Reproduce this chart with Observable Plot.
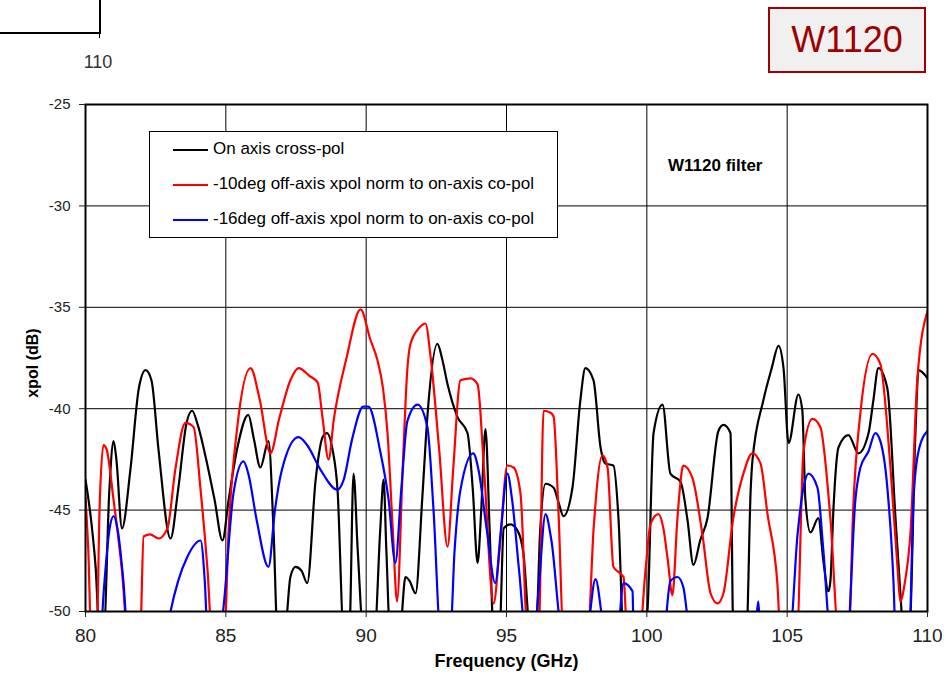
<!DOCTYPE html>
<html>
<head>
<meta charset="utf-8">
<script src="https://cdn.jsdelivr.net/npm/d3@7"></script>
<script src="https://cdn.jsdelivr.net/npm/@observablehq/plot@0.6"></script>
<style>
  html, body { margin: 0; padding: 0; background: #fff; }
  #wrap { position: relative; width: 951px; height: 686px; overflow: hidden; font-family: "Liberation Sans", Arial, sans-serif; }
  #wrap svg.plot { position: absolute; left: 0; top: 0; }
  .abs { position: absolute; }
</style>
</head>
<body>
<div id="wrap">
  <div class="abs" style="left:0;top:32px;width:101px;height:2px;background:#000"></div>
  <div class="abs" style="left:99px;top:0;width:2px;height:34px;background:#000"></div>
  <div class="abs" style="left:99px;top:34px;width:1px;height:4px;background:#000"></div>
  <div class="abs" style="left:68px;top:52px;width:60px;text-align:center;font-family:'Liberation Sans Narrow','Liberation Sans',sans-serif;font-size:18px;color:#333">110</div>
  <div class="abs" style="left:768px;top:7px;width:154px;height:62px;border:2px solid #a00000;background:#f0f0f0;color:#a00000;font-size:36px;line-height:62px;text-align:center">W1120</div>
  <div class="abs" style="left:149px;top:131px;width:407px;height:105px;border:1px solid #000;background:#fff;font-size:17px;color:#000">
    <div class="abs" style="left:23px;top:17px;width:35px;height:2px;background:#000"></div>
    <div class="abs" style="left:63px;top:7px;white-space:nowrap">On axis cross-pol</div>
    <div class="abs" style="left:23px;top:52px;width:35px;height:2px;background:#ff0000"></div>
    <div class="abs" style="left:63px;top:42px;white-space:nowrap">-10deg off-axis xpol norm to on-axis co-pol</div>
    <div class="abs" style="left:23px;top:87px;width:35px;height:2px;background:#0000ff"></div>
    <div class="abs" style="left:63px;top:77px;white-space:nowrap">-16deg off-axis xpol norm to on-axis co-pol</div>
  </div>
  <div class="abs" style="left:668px;top:156px;font-size:17px;font-weight:bold;white-space:nowrap">W1120 filter</div>
</div>
<script>
const xTicks = [80, 85, 90, 95, 100, 105, 110];
const yTicks = [-50, -45, -40, -35, -30, -25];
const seriesNames = ["On axis cross-pol", "-10deg off-axis xpol norm to on-axis co-pol", "-16deg off-axis xpol norm to on-axis co-pol"];
const seriesColors = ["#000000", "#ff0000", "#0000ff"];

const blackFreq = [80.0,80.2,80.36,80.5,80.65,80.85,81.0,81.1,81.3,81.6,81.9,82.14,82.35,82.6,83.03,83.3,83.6,83.8,84.0,84.3,84.6,84.88,85.1,85.4,85.8,86.0,86.23,86.52,86.7,86.84,87.1,87.3,87.48,87.7,87.9,88.2,88.45,88.6,88.8,88.98,89.2,89.4,89.55,89.7,89.9,90.3,90.5,90.62,90.72,90.85,91.2,91.4,91.55,91.76,92.0,92.18,92.54,92.7,92.9,93.25,93.61,93.8,93.97,94.1,94.25,94.4,94.54,94.75,94.9,95.14,95.39,95.6,95.85,96.05,96.2,96.39,96.68,96.85,97.03,97.35,97.63,97.81,98.1,98.35,98.52,98.81,98.99,99.17,99.9,100.02,100.24,100.56,100.84,101.2,101.45,101.66,101.9,102.16,102.55,102.73,102.98,103.08,103.55,103.7,103.76,104.15,104.45,104.69,104.87,105.05,105.4,105.54,105.65,105.83,106.11,106.29,106.47,106.54,106.65,106.83,107.18,107.54,107.9,108.07,108.25,108.57,108.86,109.03,109.14,109.35,109.57,109.68,110.0];
const blackDb = [-43.5,-45.5,-47.8,-51,-51,-44,-41.6,-42.5,-45.9,-43,-39,-38.1,-38.6,-42,-46.4,-44,-40.7,-40.1,-40.8,-42.5,-44.5,-46.5,-44.5,-42,-40.3,-41.5,-42.9,-41.6,-46,-51,-51,-48.3,-47.8,-48,-48.6,-43.5,-41.4,-41.2,-42,-44,-51,-51,-43.2,-47,-51,-51,-46,-43.5,-47,-51,-51,-48.3,-48.5,-49.1,-44.4,-40.4,-36.8,-37.5,-38.8,-40.4,-41.2,-44,-47.6,-45,-41,-46,-51,-51,-45.9,-45.7,-46.0,-47.1,-51,-51,-46,-43.7,-43.9,-44.6,-45.3,-43.9,-39.6,-38.0,-38.6,-41.9,-42.7,-42.8,-45.4,-51,-51,-50,-41.2,-39.8,-43.2,-43.6,-45.5,-47.7,-46.5,-45.4,-41.1,-40.8,-41.2,-51,-51,-44,-42.6,-39.6,-38,-36.9,-38.0,-41.7,-39.3,-40.1,-44.5,-46.1,-45.4,-47.5,-49.0,-48.5,-44.9,-41.9,-41.3,-42.2,-41.2,-39.6,-38.0,-39.0,-45.4,-49.0,-51,-51,-41.2,-38.1,-38.5];

const redFreq = [80.0,80.1,80.2,80.4,80.5,80.64,80.75,81.0,81.3,81.5,81.95,82.07,82.3,82.6,82.92,83.2,83.56,83.85,84.1,84.35,84.5,84.95,85.1,85.4,85.88,86.2,86.59,86.9,87.3,87.59,88.0,88.27,88.45,88.66,88.85,89.3,89.8,90.15,90.4,90.6,90.76,90.95,91.1,91.3,91.47,91.58,91.9,92.11,92.3,92.6,92.9,93.1,93.36,93.72,93.97,94.2,94.54,94.75,95.03,95.25,95.5,95.75,96.15,96.32,96.57,96.68,96.85,97.03,97.9,98.1,98.42,98.6,98.81,99.17,99.3,99.75,99.95,100.13,100.41,100.59,100.75,100.91,101.09,101.27,101.3,101.62,101.98,102.27,102.52,102.73,103.08,103.44,103.76,104.05,104.3,104.65,104.76,105.35,105.58,105.9,106.18,106.54,106.83,107.2,107.35,107.61,108.04,108.32,108.68,108.93,109.03,109.2,109.39,109.64,110.0];
const redDb = [-44.4,-47,-51,-51,-45,-41.8,-42,-44.5,-48,-51,-51,-46.3,-46.2,-46.4,-45.9,-43,-40.7,-40.9,-44,-48,-51,-51,-46,-41,-38.0,-39.5,-42.2,-40.5,-38.6,-38.0,-38.4,-38.7,-40.5,-42.5,-40.5,-37.5,-35.1,-36.6,-37.6,-39,-41.2,-46,-49.5,-43,-38.0,-36.8,-36,-35.8,-37.5,-42,-46.8,-43,-38.6,-38.5,-38.8,-43,-49.6,-47,-42.8,-42.9,-44.2,-51,-51,-40.1,-40.2,-40.4,-45,-51,-51,-46,-42.3,-42.9,-47.8,-48.3,-51,-51,-48,-45.7,-45.2,-45.9,-47.5,-49.2,-45.4,-42.9,-42.8,-43.4,-46.2,-49.1,-49.6,-49.1,-45.4,-43.2,-42.2,-42.7,-45.2,-48.6,-51,-51,-42.1,-40.5,-40.9,-45.4,-51,-51,-45,-40.2,-37.3,-37.8,-42.9,-47.8,-49.5,-48.5,-46.2,-38.5,-35.2];

const blueFreq = [80.0,80.5,80.65,80.85,81.0,81.15,81.35,81.5,82.9,83.03,83.3,83.63,84.1,84.25,84.35,84.8,84.9,85.27,85.63,85.8,86.1,86.52,86.75,87.0,87.59,87.9,88.37,88.98,89.2,89.5,89.9,90.08,90.5,90.8,91.04,91.25,91.47,91.83,92.18,92.4,92.65,93.0,93.15,93.36,93.82,94.0,94.3,94.6,94.8,95.03,95.2,95.45,95.68,96.0,96.14,96.39,96.6,96.99,97.85,98.17,98.52,98.95,99.17,99.49,99.53,100.6,100.84,101.09,101.3,101.55,103.85,103.97,104.05,105.1,105.37,105.58,105.76,106.08,106.29,106.54,107.15,107.43,107.61,107.9,108.14,108.32,108.57,108.79,108.86,109.35,109.5,109.68,110.0];
const blueDb = [-52,-52,-49,-46,-45.3,-46,-48.5,-51,-51,-50,-48.5,-47.3,-46.5,-48.5,-51,-51,-50,-44.2,-42.6,-43.2,-45.5,-47.8,-45,-43,-41.4,-41.8,-43.0,-44.0,-43.5,-41.5,-39.9,-39.9,-42.1,-44.5,-47.6,-44,-40.6,-39.8,-40.9,-45,-51,-51,-47,-44.0,-42.2,-43,-46,-48.6,-46,-43.2,-44.5,-48,-51,-51,-49,-45.2,-46.5,-51,-51,-48.4,-51,-51,-48.6,-49.0,-51,-51,-48.5,-48.3,-48.8,-51,-51,-49.5,-51,-51,-46.2,-43.9,-43.2,-43.9,-47.0,-51,-51,-44.5,-42.9,-42.1,-41.2,-41.6,-43.9,-48.6,-51,-51,-44.5,-42.1,-41.1];

const rows = [];
[[blackFreq, blackDb], [redFreq, redDb], [blueFreq, blueDb]].forEach(([fs, ds], i) => {
  fs.forEach((f, j) => rows.push({series: seriesNames[i], freq: f, db: ds[j]}));
});

const chart = Plot.plot({
  width: 951,
  height: 686,
  marginTop: 104,
  marginLeft: 85,
  marginRight: 24,
  marginBottom: 75,
  style: {fontFamily: "'Liberation Sans', Arial, sans-serif", background: "transparent", overflow: "visible"},
  x: {domain: [80, 110]},
  y: {domain: [-50, -25]},
  color: {domain: seriesNames, range: seriesColors},
  marks: [
    Plot.gridX(xTicks, {stroke: "#000", strokeOpacity: 1, strokeWidth: 1}),
    Plot.gridY(yTicks, {stroke: "#000", strokeOpacity: 1, strokeWidth: 1}),
    Plot.line(rows, {x: "freq", y: "db", z: "series", stroke: "series", strokeWidth: 2.2, curve: "monotone-x", clip: true}),
    Plot.frame({stroke: "#000", strokeWidth: 2}),
    Plot.axisX(xTicks, {tickSize: 6, tickPadding: 11, fontSize: 19, fontFamily: "'Liberation Sans Narrow', 'Liberation Sans', sans-serif", label: null, tickFormat: d => `${d}`, color: "#222"}),
    Plot.axisY(yTicks, {tickSize: 6, tickPadding: 9, fontSize: 15, label: null, tickFormat: d => `${d}`, color: "#222"}),
    Plot.text(["Frequency (GHz)"], {frameAnchor: "bottom", dy: 55, fontSize: 18, fontWeight: "bold", fontFamily: "'Liberation Sans Narrow', 'Liberation Sans', sans-serif", fill: "#000"}),
    Plot.text(["xpol (dB)"], {frameAnchor: "left", dx: -53, dy: 5, rotate: -90, textAnchor: "middle", fontSize: 16, fontWeight: "bold", fill: "#000"})
  ]
});
chart.classList.add("plot");
document.getElementById("wrap").prepend(chart);
</script>
</body>
</html>
